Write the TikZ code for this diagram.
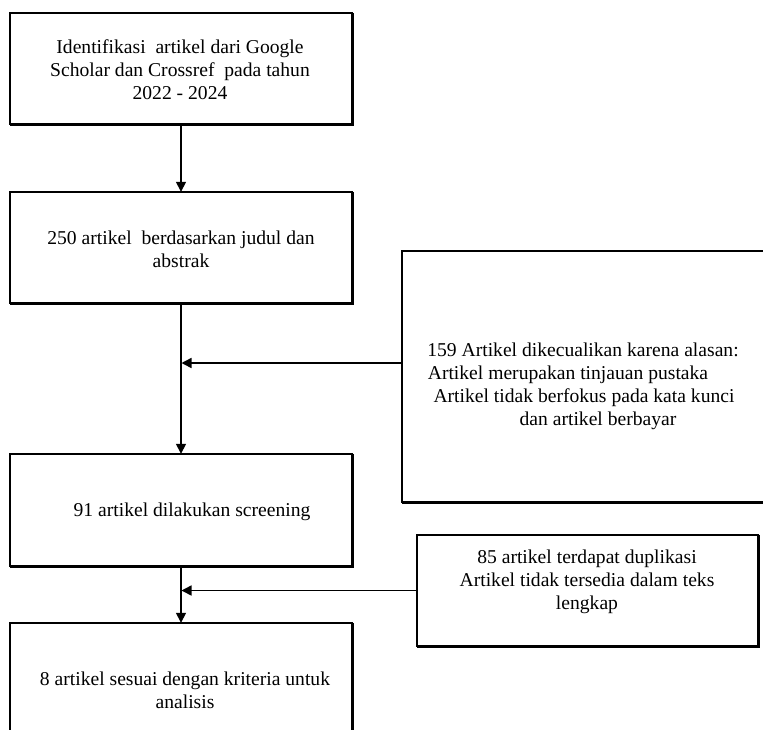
\documentclass[tikz,border=0pt]{standalone}
\usepackage{fontspec}
\setmainfont{Liberation Serif}
\usetikzlibrary{arrows.meta}
\tikzset{
  box/.style={draw=none, minimum width=#1, inner sep=0pt},
  frame/.style={draw=black, line width=2pt},
  heavy/.style={draw=black, line width=3.4pt},
  txt/.style={align=center, inner sep=0pt, text=black,
    font=\fontsize{19.6pt}{23pt}\selectfont},
  conn/.style={draw=black, line width=1.5pt},
  arr/.style={conn, -{Triangle[length=10pt,width=10pt]}}
}
\begin{document}
\begin{tikzpicture}[x=1pt,y=-1pt]
\useasboundingbox (0,0) rectangle (763,729);
\clip (0,0) rectangle (763,729);
% boxes
\node[box=342pt, minimum height=111pt] (b1) at (181,68.5) {};
\node[box=342pt, minimum height=111pt] (b2) at (181,247.5) {};
\node[box=342pt, minimum height=112pt] (b3) at (181,510) {};
\node[box=342pt, minimum height=137pt] (b5) at (181,691.5) {};
\node[box=373pt, minimum height=251pt] (b4) at (588.5,376.5) {};
\node[box=341pt, minimum height=111pt] (b6) at (587.5,590.5) {};
\foreach \b in {b1,b2,b3,b4,b5,b6}{
  \draw[frame] (\b.south west) rectangle (\b.north east);
  \draw[heavy] (\b.north east) -- (\b.south east) -- (\b.south west);
}
% texts
\node[txt] (t1) at (180,70) {Identifikasi\ \ artikel dari Google\\Scholar dan Crossref\ \ pada tahun\\2022 - 2024};
\node[txt] (t2) at (181,249) {250 artikel\ \ berdasarkan judul dan\\abstrak};
\node[txt] (t3) at (192,512) {91 artikel dilakukan screening};
\node[txt] (t4) at (583,386) {159 Artikel dikecualikan karena alasan:\\Artikel merupakan tinjauan pustaka\hspace*{30pt}\null\\\hspace*{2pt}Artikel tidak berfokus pada kata kunci\\\hspace*{30pt}dan artikel berbayar};
\node[txt] (t5) at (185,690) {8 artikel sesuai dengan kriteria untuk\\analisis};
\node[txt] (t6) at (587,582) {85 artikel terdapat duplikasi\\Artikel tidak tersedia dalam teks\\lengkap};
% connectors
\coordinate (j1) at (181.5,363);
\coordinate (j2) at (181.5,590.5);
\draw[arr] (b1.south) -- (b2.north);
\draw[arr] (b2.south) -- (b3.north);
\draw[arr] (b4.west |- j1) -- (j1);
\draw[arr] (b3.south) -- (b5.north);
\draw[arr] (b6.west) -- (j2);
\end{tikzpicture}
\end{document}
